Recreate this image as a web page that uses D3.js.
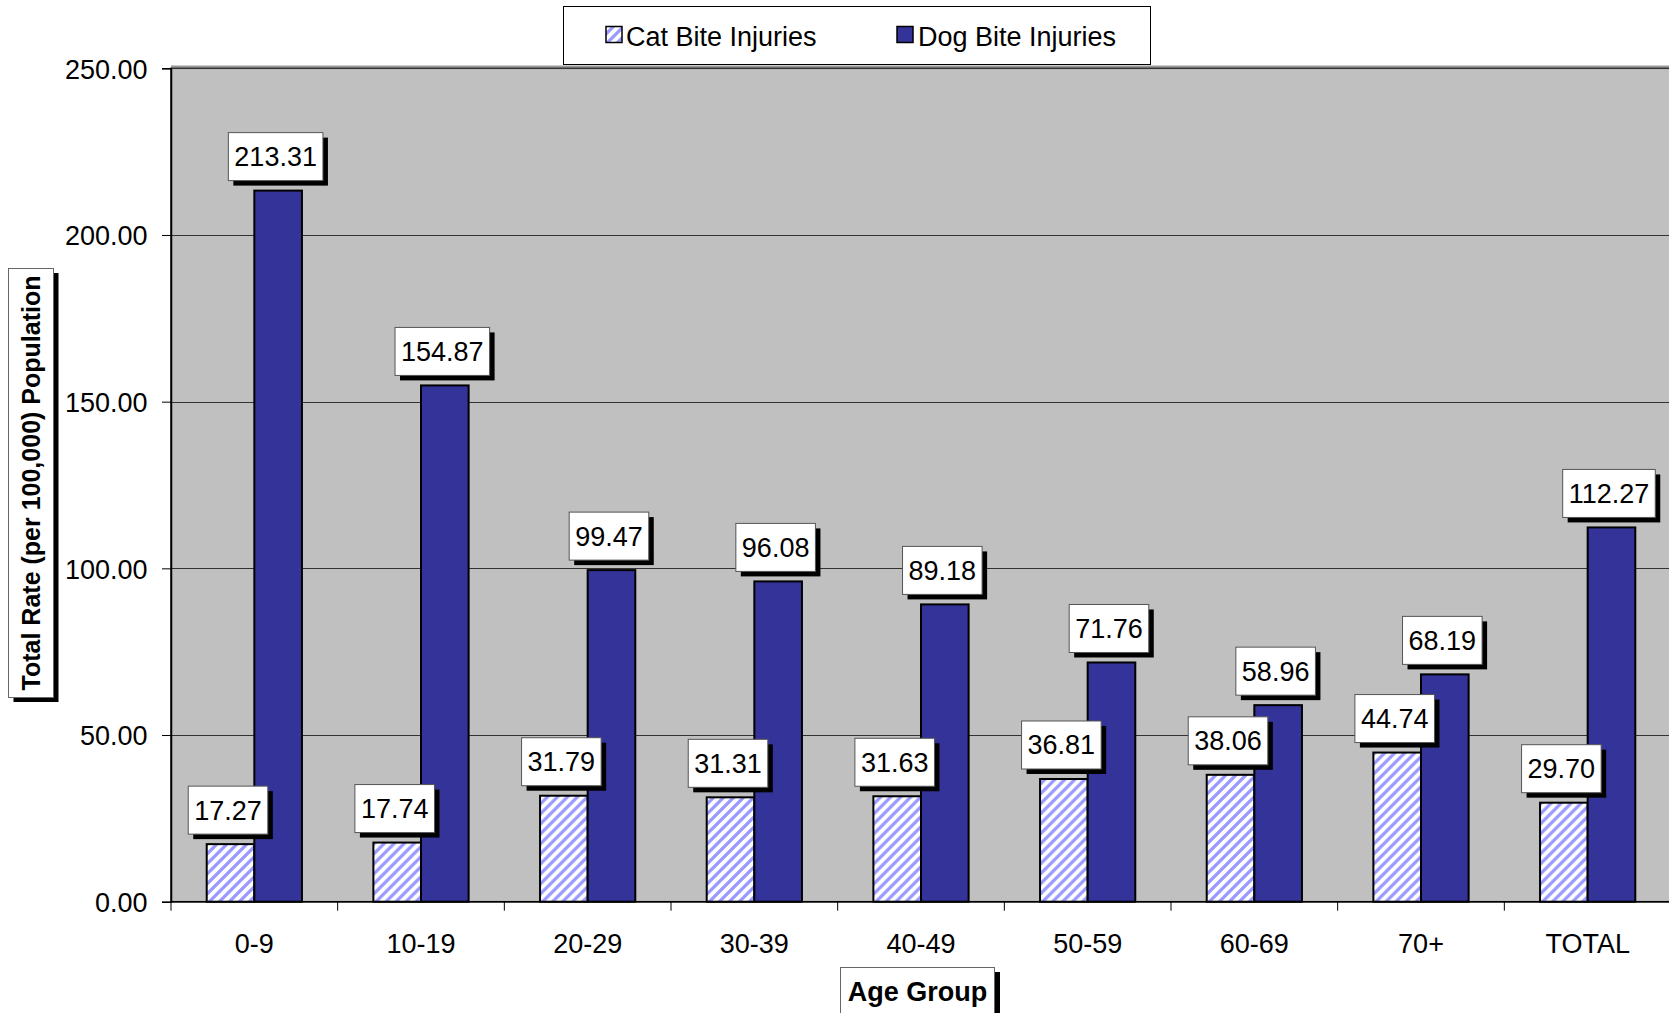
<!DOCTYPE html>
<html><head><meta charset="utf-8">
<script src="https://cdn.jsdelivr.net/npm/d3@7"></script>
<style>body{margin:0;background:#fff}svg{display:block;font-family:"Liberation Sans",Arial,sans-serif}</style>
</head><body><svg id="c" width="1669" height="1013"></svg>
<script>
const categories = ["0-9","10-19","20-29","30-39","40-49","50-59","60-69","70+","TOTAL"];
const catValues = [17.27,17.74,31.79,31.31,31.63,36.81,38.06,44.74,29.70];
const dogValues = [213.31,154.87,99.47,96.08,89.18,71.76,58.96,68.19,112.27];
const seriesNames = ["Cat Bite Injuries","Dog Bite Injuries"];
const yTicks = [0,50,100,150,200,250];
const yTitle = "Total Rate (per 100,000) Population";
const xTitle = "Age Group";

(function(){
const svg = d3.select("#c");
const pLeft = 171, pRight = 1671, pTop = 68.3, pBottom = 901.7;
const x0 = d3.scaleBand().domain(categories).range([pLeft, pRight]).padding(0);
const bw = x0.bandwidth();
const gap = bw * 0.75 / 3.5;
const x1 = d3.scaleBand().domain(["cat","dog"]).range([gap, bw - gap]).padding(0);
const y = d3.scaleLinear().domain([0, 250]).range([pBottom, pTop]);
const fmt = d3.format(".2f");

// pattern
const defs = svg.append("defs");
const p = 10;
const pat = defs.append("pattern").attr("id","hatch").attr("patternUnits","userSpaceOnUse")
  .attr("width",p).attr("height",p);
pat.append("rect").attr("width",p).attr("height",p).attr("fill","#fff");
pat.append("path").attr("d",`M${-p/2},${p/2} l${p},${-p} M0,${p} l${p},${-p} M${p/2},${p*1.5} l${p},${-p}`)
  .attr("stroke","#9999FF").attr("stroke-width",3.2);

// plot area
svg.append("line").attr("x1",pLeft).attr("x2",pRight).attr("y1",66.5).attr("y2",66.5).attr("stroke","#999").attr("stroke-width",2);
svg.append("rect").attr("x",pLeft).attr("y",pTop).attr("width",pRight-pLeft).attr("height",pBottom-pTop)
  .attr("fill","#C0C0C0").attr("stroke","#000").attr("stroke-width",1.5);

// gridlines
svg.append("g").selectAll("line").data(yTicks.filter(d=>d>0)).join("line")
  .attr("x1",pLeft).attr("x2",pRight).attr("y1",d=>Math.round(y(d))+0.5).attr("y2",d=>Math.round(y(d))+0.5)
  .attr("stroke","#333").attr("stroke-width",1);

// bars
const rows = categories.map((c,i)=>({c, cat:catValues[i], dog:dogValues[i]}));
const g = svg.append("g").selectAll("g").data(rows).join("g").attr("transform",d=>`translate(${x0(d.c)},0)`);
g.append("rect").attr("x",x1("cat")).attr("width",x1.bandwidth()).attr("y",d=>y(d.cat)).attr("height",d=>pBottom-y(d.cat))
  .attr("fill","url(#hatch)").attr("stroke","#000").attr("stroke-width",2);
g.append("rect").attr("x",x1("dog")).attr("width",x1.bandwidth()).attr("y",d=>y(d.dog)).attr("height",d=>pBottom-y(d.dog))
  .attr("fill","#333399").attr("stroke","#000").attr("stroke-width",2);

// axes
const yAxis = svg.append("g").attr("transform",`translate(${pLeft},0)`)
  .call(d3.axisLeft(y).tickValues(yTicks).tickFormat(fmt).tickSize(9).tickPadding(14.5));
yAxis.select(".domain").attr("stroke","#000").attr("stroke-width",1.5);
yAxis.selectAll("text").attr("font-size",27).attr("fill","#000").attr("dy","0.36em").style("font-family",'"Liberation Sans",Arial,sans-serif');
yAxis.selectAll(".tick line").attr("stroke","#000");

svg.append("line").attr("x1",pLeft).attr("x2",pRight).attr("y1",pBottom).attr("y2",pBottom).attr("stroke","#000").attr("stroke-width",1.5);
svg.append("g").selectAll("line").data(categories).join("line")
  .attr("x1",d=>x0(d)).attr("x2",d=>x0(d)).attr("y1",pBottom).attr("y2",pBottom+9).attr("stroke","#000").attr("stroke-width",1);
svg.append("g").selectAll("text").data(categories).join("text")
  .attr("x",d=>x0(d)+bw/2).attr("y",952.5).attr("text-anchor","middle").attr("font-size",27).attr("fill","#000").text(d=>d);

// data labels
function label(parent, cx, vy, txt){
  const lg = parent.append("g");
  const t = lg.append("text").attr("font-size",27).attr("text-anchor","middle").attr("fill","#000").text(txt);
  const w = t.node().getComputedTextLength() + 12;
  const h = 48;
  const bx = cx - 2.5 - w/2, by = vy - 10 - h;
  lg.insert("rect","text").attr("x",bx+5).attr("y",by+5).attr("width",w).attr("height",h).attr("fill","#000");
  lg.insert("rect","text").attr("x",bx).attr("y",by).attr("width",w).attr("height",h).attr("fill","#fff").attr("stroke","#555").attr("stroke-width",1);
  t.attr("x",bx+w/2).attr("y",by+33.5);
}
const lab = svg.append("g");
rows.forEach(d=>{
  label(lab, x0(d.c)+x1("cat")+x1.bandwidth()/2, y(d.cat), fmt(d.cat));
  label(lab, x0(d.c)+x1("dog")+x1.bandwidth()/2, y(d.dog), fmt(d.dog));
});

// legend
const lgd = svg.append("g");
lgd.append("rect").attr("x",563.5).attr("y",6.5).attr("width",587).attr("height",58).attr("fill","#fff").attr("stroke","#000").attr("stroke-width",1);
const legX = [606, 897], legTX = [626, 918];
seriesNames.forEach((n,i)=>{
  lgd.append("rect").attr("x",legX[i]).attr("y",26.5).attr("width",16).attr("height",16)
    .attr("fill", i===0 ? "url(#hatch)" : "#333399").attr("stroke","#000").attr("stroke-width",1.5);
  lgd.append("text").attr("x",legTX[i]).attr("y",45.5).attr("font-size",27).attr("fill","#000").text(n);
});

// y title
const yt = svg.append("g");
yt.append("rect").attr("x",13.5).attr("y",273).attr("width",45).attr("height",429).attr("fill","#000");
yt.append("rect").attr("x",8.5).attr("y",268.5).attr("width",45).attr("height",429).attr("fill","#fff").attr("stroke","#666").attr("stroke-width",1);
yt.append("text").attr("transform","translate(39.5,483) rotate(-90)").attr("text-anchor","middle")
  .attr("font-size",25).attr("font-weight","bold").attr("fill","#000").text(yTitle);

// x title
const xt = svg.append("g");
xt.append("rect").attr("x",846).attr("y",972).attr("width",154).attr("height",48).attr("fill","#000");
xt.append("rect").attr("x",840.5).attr("y",967.5).attr("width",154).attr("height",48).attr("fill","#fff").attr("stroke","#666").attr("stroke-width",1);
xt.append("text").attr("x",917.5).attr("y",1001).attr("text-anchor","middle")
  .attr("font-size",27).attr("font-weight","bold").attr("fill","#000").text(xTitle);
})();
</script></body></html>
